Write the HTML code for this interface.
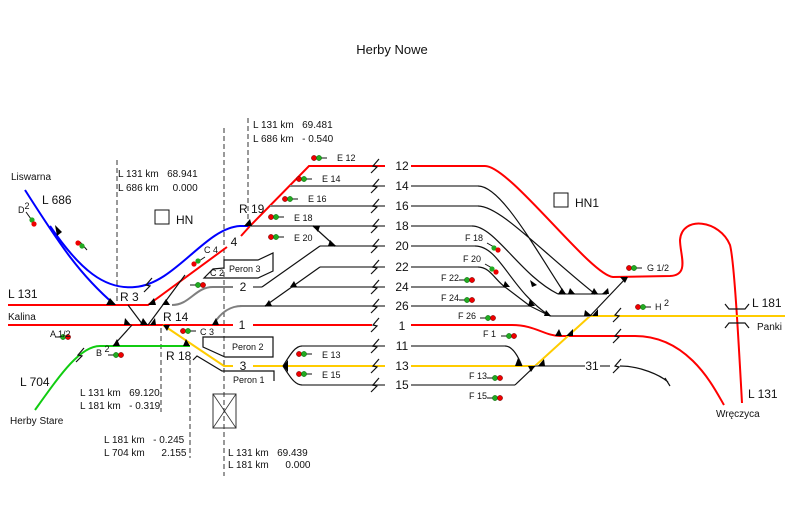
<!DOCTYPE html>
<html><head><meta charset="utf-8"><style>
body{margin:0;background:#fff}
svg{display:block}
text{font-family:"Liberation Sans",sans-serif;fill:#111}
.g{stroke:#7f7f7f;stroke-width:2;fill:none}
.k{stroke:#111;stroke-width:1.2;fill:none}
.r{stroke:#f00;stroke-width:2;fill:none}
.b{stroke:#00f;stroke-width:2;fill:none}
.y{stroke:#fc0;stroke-width:2;fill:none}
.gr{stroke:#1c1;stroke-width:2;fill:none}
.d{stroke:#333;stroke-width:1;stroke-dasharray:5,3;fill:none}
.s{font-size:9px}
.m{font-size:10px}
.n{font-size:12px}
</style></head><body>
<svg width="785" height="528" viewBox="0 0 785 528" xmlns="http://www.w3.org/2000/svg">
<defs>
<g id="sig"><line x1="3" y1="0" x2="10" y2="0" stroke="#111" stroke-width="1"/><circle cx="-3" cy="0" r="2.6" fill="#e00" stroke="#600" stroke-width=".5"/><circle cx="2" cy="0" r="2.6" fill="#2a2" stroke="#060" stroke-width=".5"/></g>
<g id="sigR"><line x1="-10" y1="0" x2="-3" y2="0" stroke="#111" stroke-width="1"/><circle cx="-2" cy="0" r="2.6" fill="#2a2" stroke="#060" stroke-width=".5"/><circle cx="3" cy="0" r="2.6" fill="#e00" stroke="#600" stroke-width=".5"/></g>
<path id="lz" d="M-4,7 L2,1 L-2,0 L4,-7" stroke="#111" stroke-width="1.2" fill="none"/>
</defs>

<text x="392" y="54" font-size="13" text-anchor="middle">Herby Nowe</text>

<line class="d" x1="117" y1="160" x2="117" y2="303"/>
<line class="d" x1="224" y1="128" x2="224" y2="476"/>
<line class="d" x1="248" y1="118" x2="248" y2="226"/>
<line class="d" x1="161" y1="328" x2="161" y2="412"/>
<line class="d" x1="190" y1="360" x2="190" y2="458"/>

<text class="m" x="118" y="177">L 131 km&#160;&#160;&#160;68.941</text>
<text class="m" x="118" y="191">L 686 km&#160;&#160;&#160;&#160;&#160;0.000</text>
<text class="m" x="253" y="128">L 131 km&#160;&#160;&#160;69.481</text>
<text class="m" x="253" y="142">L 686 km&#160;&#160;&#160;- 0.540</text>
<text class="m" x="80" y="396">L 131 km&#160;&#160;&#160;69.120</text>
<text class="m" x="80" y="409">L 181 km&#160;&#160;&#160;- 0.319</text>
<text class="m" x="104" y="443">L 181 km&#160;&#160;&#160;- 0.245</text>
<text class="m" x="104" y="456">L 704 km&#160;&#160;&#160;&#160;&#160;&#160;2.155</text>
<text class="m" x="228" y="456">L 131 km&#160;&#160;&#160;69.439</text>
<text class="m" x="228" y="468">L 181 km&#160;&#160;&#160;&#160;&#160;&#160;0.000</text>

<text class="m" x="11" y="180">Liswarna</text>
<text class="n" x="42" y="204">L 686</text>
<text class="n" x="8" y="298">L 131</text>
<text class="m" x="8" y="320">Kalina</text>
<text class="n" x="20" y="386">L 704</text>
<text class="m" x="10" y="424">Herby Stare</text>
<text class="n" x="752" y="307">L 181</text>
<text class="m" x="757" y="330">Panki</text>
<text class="n" x="748" y="398">L 131</text>
<text class="m" x="716" y="417">Wręczyca</text>

<rect x="155" y="210" width="14" height="14" fill="none" stroke="#111"/>
<text class="n" x="176" y="224">HN</text>
<rect x="554" y="193" width="14" height="14" fill="none" stroke="#111"/>
<text class="n" x="575" y="207">HN1</text>
<rect x="213" y="394" width="23" height="34" fill="none" stroke="#333"/>
<path d="M213,394 L236,428 M236,394 L213,428" stroke="#333" stroke-width=".8"/>

<path class="k" d="M204,278 L213,269 L224,268 L224,260 L258,260 L273,253 L273,271 L258,278 Z"/>
<path class="k" d="M203,337 L273,337 L273,357 L225,357 L203,347 Z"/>
<path class="k" d="M193,360 L197,356 L222,371 L274,371 L274,381"/>
<text class="s" x="229" y="272">Peron 3</text>
<text class="s" x="232" y="350">Peron 2</text>
<text class="s" x="233" y="383">Peron 1</text>

<path class="b" d="M25,190 C60,245 80,275 115,305"/>
<path class="b" d="M50,226 C80,270 105,290 135,287 C175,284 205,228 240,226 L250,226"/>

<path class="r" d="M8,305 L148,305 L227,247"/>
<path class="r" d="M241,236 L250,226 L309,166 L385,166"/>
<path class="r" d="M411,166 L485,166 C510,166 590,275 613,277 L670,276 C690,275 680,255 680,240 C682,215 720,220 730,245 C734,260 738,330 742,403"/>
<path class="r" d="M8,325 L233,325 M253,325 L372,325"/>
<path class="r" d="M411,325 L512,325 C535,325 545,336 560,336 L635,336 C690,336 715,390 724,405"/>

<path class="gr" d="M35,410 C60,375 80,346 100,346 L190,346"/>

<path class="y" d="M163,325 L224,366 L233,366"/>
<path class="y" d="M253,366 L385,366 M411,366 L535,366 L590,316 L785,316"/>

<path class="k" d="M128,305 L143,325 M148,325 L185,275 M132,325 L113,346"/>
<path class="k" d="M590,316 L627,277"/>

<path class="g" d="M290,186 L385,186 M270,206 L385,206 M250,226 L385,226 M320,246 L385,246 M320,267 L385,267 M292,287 L385,287 M240,306 L385,306"/>
<path class="g" d="M302,346 L385,346 M302,385 L385,385"/>
<path class="g" d="M172,305 C190,305 195,287 213,287 L233,287 M253,287 L262,287"/>
<path class="g" d="M213,325 C222,310 232,306 242,306"/>
<path class="k" d="M262,287 L320,246 M265,306 L320,267 M313,226 L335,246"/>
<path class="k" d="M283,366 C290,355 295,346 302,346 M283,366 C290,377 295,385 302,385"/>

<path class="g" d="M411,186 L478,186 M411,206 L478,206 M411,226 L472,226 M411,246 L475,246 M411,267 L478,267 M411,287 L505,287 M411,306 L530,306 M411,346 L505,346 M411,385 L515,385"/>
<path class="g" d="M558,294 L607,294 M550,316 L590,316 M535,366 L585,366 M600,366 L610,366"/>
<path class="k" d="M478,186 C500,186 530,240 565,294 M478,206 C500,206 540,250 595,294 M472,226 C495,226 520,275 558,294 M475,246 C500,246 510,290 550,316 M478,267 C490,267 495,280 505,287 M505,287 L530,306 M530,306 L550,316"/>
<path class="k" d="M505,346 C512,346 518,356 522,366 M515,385 L535,366"/>
<path class="k" d="M620,366 C640,366 660,375 668,382 M665,378 L670,386"/>
<text class="n" x="592" y="370" text-anchor="middle">31</text>

<path class="k" d="M725,304 L729,309 L745,309 L749,304 M725,328 L729,323 L745,323 L749,328"/>

<g class="n" text-anchor="middle">
<text x="402" y="170">12</text><text x="402" y="190">14</text><text x="402" y="210">16</text>
<text x="402" y="230">18</text><text x="402" y="250">20</text><text x="402" y="271">22</text>
<text x="402" y="291">24</text><text x="402" y="310">26</text><text x="402" y="330">1</text>
<text x="402" y="350">11</text><text x="402" y="370">13</text><text x="402" y="389">15</text>
<text x="243" y="291">2</text><text x="242" y="329">1</text><text x="243" y="370">3</text><text x="234" y="246">4</text>
</g>

<use href="#lz" x="375" y="166"/><use href="#lz" x="375" y="186"/><use href="#lz" x="375" y="206"/>
<use href="#lz" x="375" y="226"/><use href="#lz" x="375" y="246"/><use href="#lz" x="375" y="267"/>
<use href="#lz" x="375" y="287"/><use href="#lz" x="375" y="306"/><use href="#lz" x="375" y="325"/>
<use href="#lz" x="375" y="346"/><use href="#lz" x="375" y="366"/><use href="#lz" x="375" y="385"/>
<use href="#lz" x="617" y="315"/><use href="#lz" x="617" y="336"/><use href="#lz" x="617" y="366"/>
<use href="#lz" x="148" y="285"/><use href="#lz" x="80" y="355"/>

<g fill="#000">
<path d="M106,305 L116,305 L110,298Z"/><path d="M140,325 L148,325 L143,318Z"/><path d="M150,325 L156,325 L155,318Z"/>
<path d="M148,305 L156,305 L154,298Z"/><path d="M162,305 L170,305 L166,299Z"/>
<path d="M125,318 L131,325 L124,325Z"/><path d="M113,346 L120,346 L117,339Z"/>
<path d="M163,325 L170,325 L167,331Z"/><path d="M183,346 L190,346 L186,339Z"/>
<path d="M212,325 L219,325 L216,318Z"/><path d="M265,306 L272,306 L269,300Z"/><path d="M290,287 L297,287 L294,281Z"/>
<path d="M244,226 L252,226 L250,219Z"/><path d="M313,226 L320,226 L318,232Z"/><path d="M328,246 L336,246 L330,240Z"/>
<path d="M283,366 L288,360 L288,372Z"/><path d="M55,225 L62,232 L57,236Z"/>
<path d="M515,366 L522,366 L518,358Z"/><path d="M528,366 L535,366 L531,372Z"/><path d="M538,366 L545,366 L544,359Z"/>
<path d="M555,336 L562,336 L559,329Z"/><path d="M566,336 L573,336 L573,329Z"/>
<path d="M584,316 L592,316 L585,310Z"/><path d="M592,316 L598,316 L598,309Z"/>
<path d="M558,294 L566,294 L562,288Z"/><path d="M568,294 L575,294 L570,288Z"/><path d="M591,294 L598,294 L594,288Z"/>
<path d="M602,294 L609,294 L608,288Z"/><path d="M620,277 L628,277 L625,283Z"/>
<path d="M528,306 L535,306 L530,299Z"/><path d="M503,287 L510,287 L505,281Z"/><path d="M530,280 L537,285 L532,287Z"/>
<path d="M544,316 L551,316 L546,310Z"/>
</g>

<use href="#sig" x="317" y="158"/><use href="#sig" x="302" y="179"/><use href="#sig" x="288" y="199"/>
<use href="#sig" x="274" y="217"/><use href="#sig" x="274" y="237"/><use href="#sig" x="302" y="354"/>
<use href="#sig" x="302" y="374"/><use href="#sig" x="186" y="331"/>
<use href="#sigR" x="65" y="337"/><use href="#sigR" x="118" y="355"/>
<use href="#sigR" x="469" y="280"/><use href="#sigR" x="469" y="300"/><use href="#sigR" x="490" y="318"/>
<use href="#sigR" x="511" y="336"/><use href="#sigR" x="497" y="378"/><use href="#sigR" x="497" y="398"/>
<use href="#sig" x="632" y="268"/><use href="#sig" x="641" y="307"/><use href="#sigR" x="200" y="285"/>
<g stroke="#111" stroke-width="1"><line x1="487" y1="243" x2="494" y2="247"/><line x1="485" y1="264" x2="492" y2="268"/>
<line x1="26" y1="212" x2="31" y2="219"/><line x1="80" y1="242" x2="87" y2="250"/><line x1="199" y1="261" x2="205" y2="257"/></g>
<g stroke-width=".5"><circle cx="494" cy="248" r="2.6" fill="#2a2"/><circle cx="498" cy="250" r="2.6" fill="#e00"/>
<circle cx="492" cy="269" r="2.6" fill="#2a2"/><circle cx="496" cy="272" r="2.6" fill="#e00"/>
<circle cx="32" cy="220" r="2.6" fill="#2a2"/><circle cx="34" cy="224" r="2.6" fill="#e00"/>
<circle cx="78" cy="243" r="2.6" fill="#e00"/><circle cx="82" cy="246" r="2.6" fill="#2a2"/>
<circle cx="194" cy="264" r="2.6" fill="#e00"/><circle cx="198" cy="261" r="2.6" fill="#2a2"/></g>

<g class="s">
<text x="337" y="161">E 12</text><text x="322" y="182">E 14</text><text x="308" y="202">E 16</text>
<text x="294" y="221">E 18</text><text x="294" y="241">E 20</text><text x="322" y="358">E 13</text>
<text x="322" y="378">E 15</text><text x="200" y="335">C 3</text><text x="210" y="276">C 2</text><text x="204" y="253">C 4</text>
<text x="50" y="337">A 1/2</text><text x="96" y="356">B <tspan dy="-4">2</tspan></text><text x="18" y="213">D<tspan dy="-4">2</tspan></text>
<text x="465" y="241">F 18</text><text x="463" y="262">F 20</text><text x="441" y="281">F 22</text>
<text x="441" y="301">F 24</text><text x="458" y="319">F 26</text><text x="483" y="337">F 1</text>
<text x="469" y="379">F 13</text><text x="469" y="399">F 15</text><text x="647" y="271">G 1/2</text>
<text x="655" y="310">H <tspan dy="-4">2</tspan></text>
</g>
<g class="n"><text x="120" y="301">R 3</text><text x="163" y="321">R 14</text><text x="166" y="360">R 18</text><text x="239" y="213">R 19</text></g>
</svg>
</body></html>
